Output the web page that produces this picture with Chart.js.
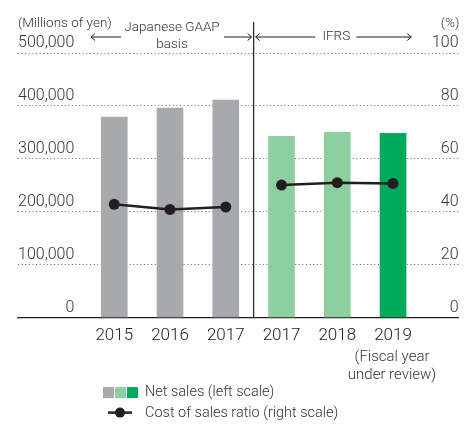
<!DOCTYPE html>
<html>
<head>
<meta charset="utf-8">
<script src="https://cdn.jsdelivr.net/npm/chart.js@4.4.0/dist/chart.umd.min.js"></script>
<style>
  html, body { margin: 0; padding: 0; background: #fff; }
  #wrap { width: 464px; height: 424px; }
</style>
</head>
<body>
<div id="wrap"><canvas id="salesChart"></canvas></div>
<script>
// fiscal years, net sales (millions of yen) and cost of sales ratio (%)
const years = ['2015', '2016', '2017', '2017', '2018', '2019'];
const netSales = [379000, 396000, 411000, 342700, 350300, 348400];
const costRatio = [42.8, 40.9, 41.8, 50.1, 51.0, 50.7];
const barColors = ['#a7a9ac', '#a7a9ac', '#a7a9ac', '#8dcfa1', '#8dcfa1', '#00a95c'];
const leftTicks = [0, 100000, 200000, 300000, 400000, 500000];
const rightTicks = [0, 20, 40, 60, 80, 100];

const FONT = "Roboto, 'Liberation Sans', sans-serif";
const TEXT = '#333';
const INK = '#231f20';

Chart.defaults.font.family = FONT;
Chart.defaults.color = TEXT;

// divider, basis captions, unit labels and the legend
const extras = {
    id: 'extras',
    afterDraw(chart) {
        const ctx = chart.ctx;
        const xs = chart.scales.x;
        const area = chart.chartArea;
        const divX = xs.getPixelForValue(2.5);

        ctx.save();
        ctx.strokeStyle = INK;
        ctx.lineWidth = 1.2;
        ctx.beginPath();
        ctx.moveTo(divX, 22);
        ctx.lineTo(divX, area.bottom);
        ctx.stroke();

        ctx.fillStyle = TEXT;
        ctx.textBaseline = 'middle';
        ctx.font = '300 13.5px ' + FONT;
        ctx.textAlign = 'left';
        ctx.fillText('(Millions of yen)', area.left, 24);
        ctx.textAlign = 'right';
        ctx.fillText('(%)', area.right + 1, 24);

        function arrow(x1, x2, y, headLeft) {
            ctx.lineWidth = 1;
            ctx.beginPath();
            ctx.moveTo(x1, y);
            ctx.lineTo(x2, y);
            const hx = headLeft ? x1 : x2;
            const d = headLeft ? 4 : -4;
            ctx.moveTo(hx + d, y - 3.5);
            ctx.lineTo(hx, y);
            ctx.lineTo(hx + d, y + 3.5);
            ctx.stroke();
        }

        const arrowY = 37;
        const gaap = xs.getPixelForValue(1) + 2;
        ctx.textAlign = 'center';
        ctx.fillText('Japanese GAAP', gaap, 28);
        ctx.fillText('basis', gaap, 45);
        arrow(gaap - 81, gaap - 51, arrowY, true);
        arrow(gaap + 52, divX - 2, arrowY, false);

        const ifrs = xs.getPixelForValue(4) - 1;
        ctx.fillText('IFRS', ifrs, arrowY);
        arrow(divX + 2, ifrs - 21, arrowY, true);
        arrow(ifrs + 20, ifrs + 75, arrowY, false);

        // note under the current year
        const cur = xs.getPixelForValue(5) - 1;
        ctx.font = '300 15px ' + FONT;
        ctx.fillText('(Fiscal year', cur, area.bottom + 40);
        ctx.fillText('under review)', cur, area.bottom + 58);

        // legend
        const ly = area.bottom + 75;
        ['#a7a9ac', '#8dcfa1', '#00a95c'].forEach((c, i) => {
            ctx.fillStyle = c;
            ctx.fillRect(103 + i * 12, ly - 5.5, 11, 11);
        });
        ctx.fillStyle = TEXT;
        ctx.textAlign = 'left';
        ctx.font = '300 14.5px ' + FONT;
        ctx.fillText('Net sales (left scale)', 145, ly);

        const ly2 = ly + 20;
        ctx.strokeStyle = INK;
        ctx.lineWidth = 2.5;
        ctx.beginPath();
        ctx.moveTo(108, ly2);
        ctx.lineTo(132, ly2);
        ctx.stroke();
        ctx.fillStyle = INK;
        ctx.beginPath();
        ctx.arc(120, ly2, 5, 0, Math.PI * 2);
        ctx.fill();
        ctx.fillStyle = TEXT;
        ctx.fillText('Cost of sales ratio (right scale)', 145, ly2 + 1);
        ctx.restore();
    }
};

new Chart(document.getElementById('salesChart'), {
    data: {
        datasets: [{
            type: 'line',
            label: 'Cost of sales ratio (right scale)',
            data: costRatio.map((v, i) => ({x: i, y: v})),
            yAxisID: 'y1',
            borderColor: INK,
            borderWidth: 2.5,
            pointRadius: 5.5,
            pointBackgroundColor: INK,
            pointBorderWidth: 0,
            // no link between the two accounting standards
            segment: {
                borderColor: c => c.p0DataIndex === 2 ? 'rgba(0,0,0,0)' : INK
            },
            order: 1
        }, {
            type: 'bar',
            label: 'Net sales (left scale)',
            data: netSales.map((v, i) => ({x: i, y: v})),
            yAxisID: 'y',
            backgroundColor: barColors,
            barThickness: 26,
            order: 2
        }]
    },
    options: {
        responsive: true,
        maintainAspectRatio: false,
        animation: false,
        devicePixelRatio: 1,
        layout: {padding: {left: 18, right: 2, top: 53, bottom: 70}},
        plugins: {legend: {display: false}, tooltip: {enabled: false}},
        scales: {
            x: {
                type: 'linear',
                offset: false,
                min: -1.726,
                max: 6.174,
                afterBuildTicks: s => { s.ticks = years.map((_, i) => ({value: i})); },
                grid: {display: false, drawTicks: false},
                border: {display: true, color: INK, width: 1.2},
                ticks: {
                    callback: v => years[v],
                    color: '#222',
                    font: {size: 17, weight: '300'},
                    padding: 8,
                    maxRotation: 0,
                    autoSkip: false
                }
            },
            y: {
                position: 'left',
                min: 0,
                max: 500000,
                afterBuildTicks: s => { s.ticks = leftTicks.map(v => ({value: v})); },
                grid: {
                    color: c => c.tick.value === 0 ? 'rgba(0,0,0,0)' : '#666',
                    lineWidth: 1,
                    drawTicks: false
                },
                border: {display: false, dash: [1, 2.6]},
                ticks: {
                    mirror: true,
                    crossAlign: 'far',
                    padding: 0,
                    labelOffset: -10,
                    font: {size: 16, weight: '300'},
                    callback: v => v.toLocaleString('en-US')
                }
            },
            y1: {
                position: 'right',
                min: 0,
                max: 100,
                afterBuildTicks: s => { s.ticks = rightTicks.map(v => ({value: v})); },
                grid: {display: false, drawTicks: false},
                border: {display: false},
                ticks: {
                    mirror: true,
                    crossAlign: 'near',
                    padding: 0,
                    labelOffset: -10,
                    font: {size: 16, weight: '300'}
                }
            }
        }
    },
    plugins: [extras]
});
</script>
</body>
</html>
